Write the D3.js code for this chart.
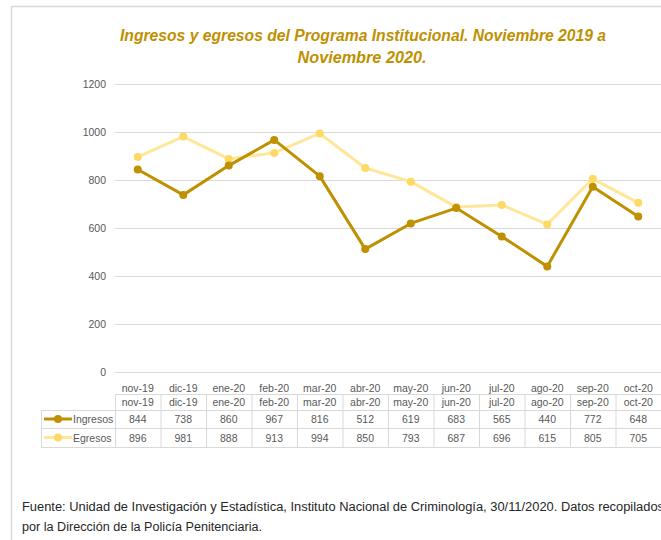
<!DOCTYPE html>
<html>
<head>
<meta charset="utf-8">
<script src="https://cdn.jsdelivr.net/npm/d3@7"></script>
<style>
    body { margin: 0; background: #fff; }
    svg { display: block; font-family: 'Liberation Sans', Arial, sans-serif; }
</style>
</head>
<body>
<div id="container"></div>
<script>
const months = ['nov-19', 'dic-19', 'ene-20', 'feb-20', 'mar-20', 'abr-20', 'may-20', 'jun-20', 'jul-20', 'ago-20', 'sep-20', 'oct-20'];
const ingresos = [844, 738, 860, 967, 816, 512, 619, 683, 565, 440, 772, 648];
const egresos = [896, 981, 888, 913, 994, 850, 793, 687, 696, 615, 805, 705];
const yTicks = [0, 200, 400, 600, 800, 1000, 1200];
const titleLines = ['Ingresos y egresos del Programa  Institucional.  Noviembre 2019 a', 'Noviembre 2020.'];
const sourceLines = ['Fuente: Unidad de Investigación y Estadística, Instituto Nacional de Criminología,  30/11/2020. Datos recopilados', 'por la Dirección de la Policía Penitenciaria.'];

const series = [
    { name: 'Ingresos', values: ingresos, line: '#bf9000', dot: '#bf9000' },
    { name: 'Egresos', values: egresos, line: '#ffe699', dot: '#ffd966' }
];

const width = 661, height = 540;
const margin = { top: 84, right: 0, bottom: 168, left: 115 };
const border = '#d9d9d9';
const textGray = '#595959';

const svg = d3.select('#container').append('svg')
    .attr('width', width)
    .attr('height', height);

// outer frame (top + left edges visible)
svg.append('line').attr('x1', 11).attr('x2', width).attr('y1', 6.5).attr('y2', 6.5)
    .style('stroke', border).style('stroke-width', 1.5);
svg.append('line').attr('x1', 11.5).attr('x2', 11.5).attr('y1', 6).attr('y2', height)
    .style('stroke', border).style('stroke-width', 1.5);

// title
svg.append('g').selectAll('text')
    .data(titleLines)
    .enter().append('text')
    .attr('x', (d, i) => i === 0 ? 363 : 362)
    .attr('y', (d, i) => i === 0 ? 41 : 63)
    .attr('text-anchor', 'middle')
    .attr('textLength', (d, i) => i === 0 ? 486 : 129)
    .attr('lengthAdjust', 'spacingAndGlyphs')
    .style('fill', '#bf9000')
    .style('font-weight', 'bold')
    .style('font-style', 'italic')
    .style('font-size', '16px')
    .text(d => d);

const xScale = d3.scaleBand()
    .domain(months)
    .range([margin.left, width - margin.right]);
const yScale = d3.scaleLinear()
    .domain([0, 1200])
    .range([height - margin.bottom, margin.top]);
const cx = m => xScale(m) + xScale.bandwidth() / 2;

// gridlines
svg.append('g').selectAll('line')
    .data(yTicks)
    .enter().append('line')
    .attr('x1', margin.left)
    .attr('x2', width - margin.right)
    .attr('y1', d => yScale(d) + 0.5)
    .attr('y2', d => yScale(d) + 0.5)
    .style('stroke', border)
    .style('stroke-width', 1);

// y axis labels
const yAxis = d3.axisLeft(yScale)
    .tickValues(yTicks)
    .tickFormat(d3.format('d'))
    .tickSize(0)
    .tickPadding(9);
const yG = svg.append('g')
    .attr('transform', 'translate(' + margin.left + ',0)')
    .call(yAxis);
yG.select('.domain').remove();
yG.selectAll('text')
    .style('fill', textGray)
    .style('font-size', '10.5px')
    .style('font-family', "'Liberation Sans', Arial, sans-serif");

// lines + markers
const line = d3.line()
    .x((d, i) => cx(months[i]))
    .y(d => yScale(d));
series.slice().reverse().forEach(s => {
    svg.append('path')
        .datum(s.values)
        .attr('d', line)
        .style('fill', 'none')
        .style('stroke', s.line)
        .style('stroke-width', 3)
        .style('stroke-linejoin', 'round');
    svg.append('g').selectAll('circle')
        .data(s.values)
        .enter().append('circle')
        .attr('cx', (d, i) => cx(months[i]))
        .attr('cy', d => yScale(d))
        .attr('r', 4)
        .style('fill', s.dot);
});

// category labels (axis row)
svg.append('g').selectAll('text')
    .data(months)
    .enter().append('text')
    .attr('x', d => cx(d))
    .attr('y', 391.5)
    .attr('text-anchor', 'middle')
    .style('fill', textGray)
    .style('font-size', '10.5px')
    .text(d => d);

// data table
const rowTop = [394, 410, 428];
const rowBottom = 447;
const legendLeft = 41;
const table = svg.append('g');
const tableLine = (x1, x2, y1, y2) => table.append('line')
    .attr('x1', x1).attr('x2', x2).attr('y1', y1).attr('y2', y2)
    .style('stroke', border).style('stroke-width', 1);

tableLine(margin.left, width, rowTop[0] + 0.5, rowTop[0] + 0.5);
[rowTop[1], rowTop[2], rowBottom].forEach(y => tableLine(legendLeft, width, y + 0.5, y + 0.5));
tableLine(legendLeft + 0.5, legendLeft + 0.5, rowTop[1], rowBottom);
months.forEach(m => tableLine(xScale(m) + 0.5, xScale(m) + 0.5, rowTop[0], rowBottom));

table.append('g').selectAll('text')
    .data(months)
    .enter().append('text')
    .attr('x', d => cx(d))
    .attr('y', 406)
    .attr('text-anchor', 'middle')
    .style('fill', textGray)
    .style('font-size', '10.5px')
    .text(d => d);

series.forEach((s, r) => {
    const yMid = (rowTop[r + 1] + (r === 0 ? rowTop[2] : rowBottom)) / 2;
    table.append('line')
        .attr('x1', 44).attr('x2', 72).attr('y1', yMid).attr('y2', yMid)
        .style('stroke', s.line).style('stroke-width', 3);
    table.append('circle')
        .attr('cx', 58).attr('cy', yMid).attr('r', 4)
        .style('fill', s.dot);
    table.append('text')
        .attr('x', 73)
        .attr('y', yMid + 4)
        .style('fill', textGray)
        .style('font-size', '10.5px')
        .text(s.name);
    table.append('g').selectAll('text')
        .data(s.values)
        .enter().append('text')
        .attr('x', (d, i) => cx(months[i]))
        .attr('y', yMid + 4)
        .attr('text-anchor', 'middle')
        .style('fill', textGray)
        .style('font-size', '10.5px')
        .text(d => d);
});

// source note
svg.append('g').selectAll('text')
    .data(sourceLines)
    .enter().append('text')
    .attr('x', 22)
    .attr('y', (d, i) => i === 0 ? 511 : 531)
    .attr('textLength', (d, i) => i === 0 ? 642 : 240)
    .attr('lengthAdjust', 'spacingAndGlyphs')
    .style('fill', '#262626')
    .style('font-size', '12.5px')
    .text(d => d);
</script>
</body>
</html>
